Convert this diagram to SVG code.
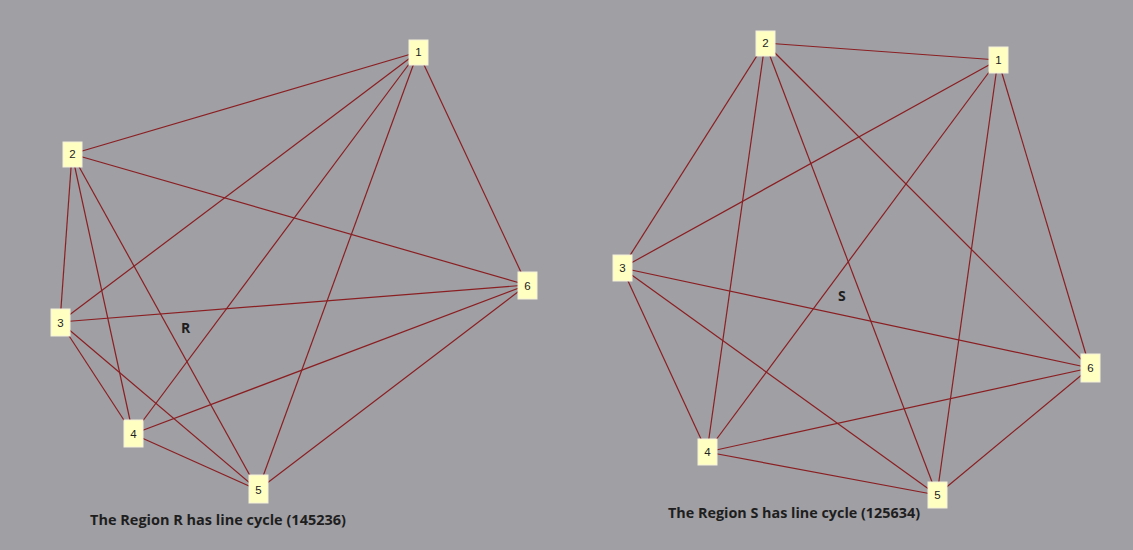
<svg xmlns="http://www.w3.org/2000/svg" width="1133" height="550" viewBox="0 0 1133 550">
<style>
.e{stroke:#8a1f22;stroke-width:1.2;fill:none}
.n rect{fill:#ffffc2;stroke:#f4f0d8;stroke-width:1}
.n text{font-family:"Liberation Sans",Arial,sans-serif;font-size:11.5px;fill:#222;text-anchor:middle}
.lbl{font-family:"Open Sans","Liberation Sans",sans-serif;font-weight:bold;font-size:14px;fill:#1e1e1e}
.cap{font-family:"Open Sans","Liberation Sans",sans-serif;font-weight:bold;font-size:14.5px;fill:#1e1e1e}
</style>
<rect width="1133" height="550" fill="#a09fa4"/>
<g id="connectors">
<line class="e" x1="418" y1="52" x2="72" y2="154"/>
<line class="e" x1="418" y1="52" x2="60" y2="322"/>
<line class="e" x1="418" y1="52" x2="133" y2="434"/>
<line class="e" x1="418" y1="52" x2="258" y2="490"/>
<line class="e" x1="418" y1="52" x2="527" y2="285"/>
<line class="e" x1="72" y1="154" x2="527" y2="285"/>
<line class="e" x1="72" y1="154" x2="60" y2="322"/>
<line class="e" x1="72" y1="154" x2="133" y2="434"/>
<line class="e" x1="72" y1="154" x2="258" y2="490"/>
<line class="e" x1="60" y1="322" x2="527" y2="285"/>
<line class="e" x1="60" y1="322" x2="133" y2="434"/>
<line class="e" x1="60" y1="322" x2="258" y2="490"/>
<line class="e" x1="133" y1="434" x2="258" y2="490"/>
<line class="e" x1="133" y1="434" x2="527" y2="285"/>
<line class="e" x1="258" y1="490" x2="527" y2="285"/>
<line class="e" x1="765" y1="43" x2="998" y2="60"/>
<line class="e" x1="765" y1="43" x2="622" y2="268"/>
<line class="e" x1="765" y1="43" x2="707" y2="452"/>
<line class="e" x1="765" y1="43" x2="937" y2="495"/>
<line class="e" x1="765" y1="43" x2="1090" y2="368"/>
<line class="e" x1="998" y1="60" x2="622" y2="268"/>
<line class="e" x1="998" y1="60" x2="707" y2="452"/>
<line class="e" x1="998" y1="60" x2="937" y2="495"/>
<line class="e" x1="998" y1="60" x2="1090" y2="368"/>
<line class="e" x1="622" y1="268" x2="1090" y2="368"/>
<line class="e" x1="622" y1="268" x2="707" y2="452"/>
<line class="e" x1="622" y1="268" x2="937" y2="495"/>
<line class="e" x1="707" y1="452" x2="1090" y2="368"/>
<line class="e" x1="707" y1="452" x2="937" y2="495"/>
<line class="e" x1="937" y1="495" x2="1090" y2="368"/>
</g>
<g id="L1" class="n"><rect x="409" y="40" width="19" height="25"/><text x="418.5" y="56">1</text></g>
<g id="L2" class="n"><rect x="63" y="142" width="19" height="25"/><text x="72.5" y="158">2</text></g>
<g id="L3" class="n"><rect x="51" y="309" width="19" height="27"/><text x="60.5" y="327">3</text></g>
<g id="L4" class="n"><rect x="124" y="420" width="19" height="27"/><text x="133.5" y="438">4</text></g>
<g id="L5" class="n"><rect x="249" y="475" width="19" height="28"/><text x="258.5" y="494">5</text></g>
<g id="L6" class="n"><rect x="518" y="272" width="19" height="27"/><text x="527.5" y="290">6</text></g>
<g id="R2" class="n"><rect x="756" y="31" width="19" height="25"/><text x="765.5" y="47">2</text></g>
<g id="R1" class="n"><rect x="989" y="47" width="19" height="26"/><text x="998.5" y="64">1</text></g>
<g id="R3" class="n"><rect x="613" y="255" width="19" height="26"/><text x="622.5" y="272">3</text></g>
<g id="R6" class="n"><rect x="1081" y="354" width="19" height="28"/><text x="1090.5" y="372">6</text></g>
<g id="R4" class="n"><rect x="698" y="439" width="19" height="26"/><text x="707.5" y="456">4</text></g>
<g id="R5" class="n"><rect x="928" y="482" width="19" height="26"/><text x="937.5" y="499">5</text></g>
<text class="lbl" x="181" y="333">R</text>
<text class="lbl" x="838" y="301">S</text>
<text class="cap" x="90" y="525" textLength="256" lengthAdjust="spacingAndGlyphs">The Region R has line cycle (145236)</text>
<text class="cap" x="668" y="518" textLength="252" lengthAdjust="spacingAndGlyphs">The Region S has line cycle (125634)</text>
</svg>
